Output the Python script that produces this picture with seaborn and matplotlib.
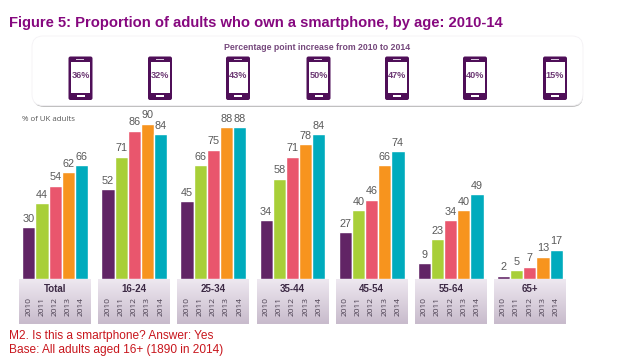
import matplotlib
matplotlib.use("Agg")
import matplotlib.pyplot as plt
from matplotlib.patches import FancyBboxPatch, Rectangle
import numpy as np
import pandas as pd
import seaborn as sns

# Data
ages = ['Total', '16-24', '25-34', '35-44', '45-54', '55-64', '65+']
years = ['2010', '2011', '2012', '2013', '2014']
v2010 = [30, 52, 45, 34, 27, 9, 2]
v2011 = [44, 71, 66, 58, 40, 23, 5]
v2012 = [54, 86, 75, 71, 46, 34, 7]
v2013 = [62, 90, 88, 78, 66, 40, 13]
v2014 = [66, 84, 88, 84, 74, 49, 17]
increase = ['36%', '32%', '43%', '50%', '47%', '40%', '15%']

colours = ['#612465', '#a8cf38', '#e9566d', '#f7941e', '#00abbd']
purple = '#4f0f58'
W, H = 624, 364

df = pd.DataFrame({'age': ages, '2010': v2010, '2011': v2011, '2012': v2012,
                   '2013': v2013, '2014': v2014})
df = df.melt(id_vars='age', var_name='year', value_name='pct')

sns.set_theme(style='white')
plt.rcParams['font.family'] = ['Liberation Sans', 'DejaVu Sans']
fig = plt.figure(figsize=(W / 100, H / 100), dpi=100)

# overlay in pixel coordinates for the decoration
bg = fig.add_axes([0, 0, 1, 1], zorder=0)
bg.set_xlim(0, W)
bg.set_ylim(H, 0)
bg.axis('off')

bg.text(9, 23, 'Figure 5: Proportion of adults who own a smartphone, by age: 2010-14',
        fontsize=10.6, fontweight='bold', color='#86087f', va='center')

# rounded panel with the phones
bg.add_patch(FancyBboxPatch((33, 38), 550, 69, boxstyle='round,pad=0,rounding_size=11',
                            fc='#b9b9b9', ec='none', alpha=0.9))
bg.add_patch(FancyBboxPatch((32, 36), 551, 69.5, boxstyle='round,pad=0,rounding_size=11',
                            fc='white', ec='#f4f2f5', lw=0.6))
bg.text(317.5, 47, 'Percentage point increase from 2010 to 2014', fontsize=6.3,
        fontweight='bold', color='#75487c', ha='center', va='center')

phone_x = [80.5, 160, 238, 318.5, 397, 475, 555]
for px, label in zip(phone_x, increase):
    bg.add_patch(FancyBboxPatch((px - 12, 56.5), 24, 43.5, boxstyle='round,pad=0,rounding_size=2',
                                fc=purple, ec='none'))
    bg.add_patch(Rectangle((px - 9.5, 62), 19, 30.5, fc='white', ec='none'))
    bg.add_patch(Rectangle((px - 4, 94.5), 8, 2.2, fc='white', ec='none'))
    bg.add_patch(Rectangle((px - 4.5, 58.5), 8, 1, fc='#d8c8dc', ec='none'))
    bg.text(px, 75.5, label, fontsize=6.6, fontweight='bold', color='#6d3a74',
            ha='center', va='center')

bg.text(22, 119.5, '% of UK adults', fontsize=5.7, color='#555555', va='center',
        family=['Open Sans', 'DejaVu Sans'])

bg.text(9, 336, 'M2. Is this a smartphone? Answer: Yes', fontsize=8.6, color='#c8161d', va='center')
bg.text(9, 350, 'Base: All adults aged 16+ (1890 in 2014)', fontsize=8.6, color='#c8161d', va='center')

# bars
pitch = 79.1
left = 55.2 - pitch / 2
right = left + pitch * 7
px_per_unit = 1.725
top = 279 - 95 * px_per_unit
ax = fig.add_axes([left / W, 1 - 279 / H, (right - left) / W, (279 - top) / H], zorder=1)
ax.patch.set_alpha(0)
sns.barplot(data=df, x='age', y='pct', hue='year', order=ages, hue_order=years,
            palette=colours, width=5 / 6, gap=0, saturation=1, legend=False, ax=ax)
for container in ax.containers:
    ax.bar_label(container, fontsize=7.8, color='#595959', padding=2.5)
ax.set_xlim(-0.5, 6.5)
ax.set_ylim(0, 95)
ax.axis('off')

# gradient blocks under each age group
gradient = np.linspace(0, 1, 50).reshape(-1, 1)
cmap = matplotlib.colors.LinearSegmentedColormap.from_list('block', ['#eee8f0', '#c8bbcc'])
bar_w = pitch / 6
for i, age in enumerate(ages):
    cx = 55.2 + i * pitch
    bg.imshow(gradient, cmap=cmap, aspect='auto', zorder=1,
              extent=(cx - 36, cx + 36, 324, 279))
    bg.text(cx, 289.5, age, fontsize=7, fontweight='bold', color='#3d2a45',
            ha='center', va='center', zorder=2)
    for j, year in enumerate(years):
        bg.text(cx + (j - 2) * bar_w, 307, year, fontsize=6, color='#4e4354', rotation=90,
                ha='center', va='center', zorder=2, family=['Open Sans', 'DejaVu Sans'])
bg.set_xlim(0, W)
bg.set_ylim(H, 0)

plt.savefig('out.png', dpi=100)
